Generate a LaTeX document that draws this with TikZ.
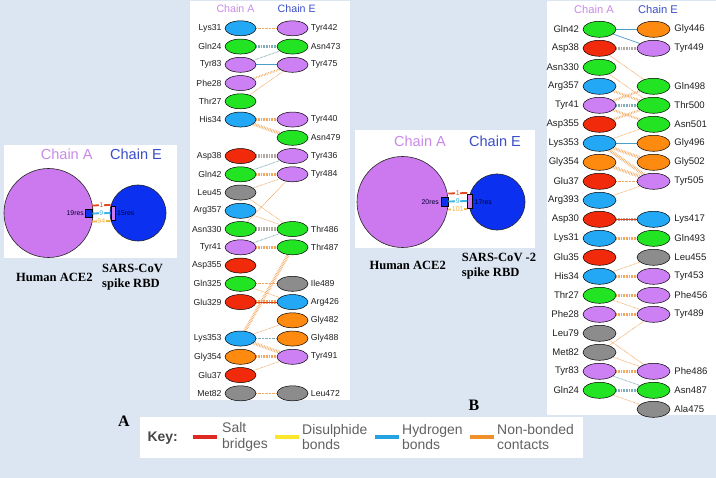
\documentclass[tikz,border=0pt]{standalone}
\usepackage{fontspec}
\setmainfont{Liberation Sans}
\newfontfamily\serifbf{Liberation Serif}
\usetikzlibrary{shapes.geometric}
\definecolor{bgblue}{HTML}{DCE6F2}
\definecolor{cP}{HTML}{CC80F4}
\definecolor{cG}{HTML}{22E422}
\definecolor{cB}{HTML}{22A8F4}
\definecolor{cR}{HTML}{F22A0C}
\definecolor{cO}{HTML}{FF8A10}
\definecolor{cK}{HTML}{8C8C8C}
\definecolor{chA}{HTML}{C98AE8}
\definecolor{chE}{HTML}{3A4EC8}
\definecolor{lnO}{HTML}{F2A860}
\definecolor{lnB}{HTML}{4A9EC8}
\definecolor{lnT}{HTML}{7FAEB8}
\definecolor{lnR}{HTML}{E0401E}
\definecolor{lnM}{HTML}{B0AAA2}
\definecolor{keyR}{HTML}{DE2A24}
\definecolor{keyY}{HTML}{FCE62C}
\definecolor{keyB}{HTML}{24A2E2}
\definecolor{keyO}{HTML}{F0902A}
\definecolor{bigP}{HTML}{CC78EE}
\definecolor{bigB}{HTML}{0C30F0}
\definecolor{sqR}{HTML}{E04A22}
\definecolor{sqC}{HTML}{3CB4E4}
\definecolor{sqO}{HTML}{F2B440}
\pgfdeclarelayer{bg}\pgfdeclarelayer{lines}\pgfsetlayers{bg,lines,main}
\tikzset{
  resA/.style={ellipse, draw=black, line width=0.5bp, minimum width=31bp, minimum height=15bp, inner sep=0pt},
  resB/.style={ellipse, draw=black, line width=0.5bp, minimum width=33bp, minimum height=16bp, inner sep=0pt},
  lablA/.style={font=\fontsize{8.7}{10}\selectfont, text=black!88, inner sep=0pt},
  lablB/.style={font=\fontsize{9.6}{11}\selectfont, text=black!88, inner sep=0pt},
  nb/.style={draw=lnO, line width=0.7bp, dash pattern=on 0.7bp off 0.7bp},
  nbm/.style={draw=lnO, line width=3.2bp, dash pattern=on 0.6bp off 1bp},
  hb/.style={draw=lnB, line width=0.7bp},
  hbd/.style={draw=lnT, line width=0.8bp, dash pattern=on 0.7bp off 0.7bp},
  hbm/.style={draw=lnT, line width=2.8bp, dash pattern=on 0.6bp off 1bp},
  mixm/.style={draw=lnM, line width=3.2bp, dash pattern=on 0.6bp off 1bp},
  sb/.style={draw=lnR, line width=1bp},
  chhead/.style={inner sep=0pt},
  bigc/.style={circle, draw=black!85, line width=0.6bp, inner sep=0pt},
  sq/.style={rectangle, draw=black, line width=0.5bp, inner sep=0pt},
  resn/.style={font=\fontsize{6.9}{7}\selectfont, text=black!80!blue, inner sep=0pt},
  cnum/.style={font=\fontsize{7}{7}\selectfont, fill=white, inner sep=0.6bp},
  clink/.style={line width=1.8bp},
  captxt/.style={font=\serifbf\bfseries\fontsize{12.6}{15.5}\selectfont, inner sep=0pt, align=left},
  panlab/.style={font=\serifbf\bfseries\fontsize{16}{18}\selectfont, inner sep=0pt},
  keytxt/.style={font=\fontsize{14}{15.5}\selectfont, text=black!62, inner sep=0pt, align=left, anchor=west},
  swatch/.style={rectangle, inner sep=0pt, minimum width=24bp, minimum height=4bp}
}
\begin{document}
\begin{tikzpicture}[x=1bp,y=-1bp]
\useasboundingbox (0,0) rectangle (716,478);
\begin{pgfonlayer}{bg}
\fill[bgblue] (0,0) rectangle (716,478);
\fill[white] (4,145) rectangle (177,258);
\fill[white] (355,130) rectangle (535,248);
\fill[white] (190,1) rectangle (350,400);
\fill[white] (547,1) rectangle (716,415);
\fill[white] (140,417) rectangle (583,458);
\end{pgfonlayer}

% ---------- Panel A overview ----------
\node[chhead, font=\fontsize{14.6}{16}\selectfont, text=chA] (hA1) at (66.7,154) {Chain A};
\node[chhead, font=\fontsize{14.6}{16}\selectfont, text=chE] (hE1) at (136,154) {Chain E};
\node[bigc, fill=bigP, minimum size=89bp] (ace1) at (48.5,213) {};
\node[bigc, fill=bigB, minimum size=56bp] (rbd1) at (138,213) {};
\node[sq, fill=bigB, minimum width=7bp, minimum height=8bp] (sqA1) at (88.5,213.5) {};
\node[sq, fill=bigP, minimum width=4.5bp, minimum height=14bp] (rcE1) at (113,213) {};
\node[resn, anchor=east] (nA1) at (84,213) {19res};
\node[resn, anchor=west] (nE1) at (117,213) {15res};
\draw[clink, draw=sqR] ([yshift=8bp]sqA1.east) -- node[cnum, text=sqR] (k1a) {1} ([yshift=8bp]rcE1.west);
\draw[clink, draw=sqC] (sqA1.east) -- node[cnum, text=sqC] (k2a) {9} (rcE1.west);
\draw[clink, draw=sqO] ([yshift=-8bp]sqA1.east) -- node[cnum, text=sqO] (k3a) {94} ([yshift=-8bp]rcE1.west);
\node[captxt, anchor=west] (hum1) at (16,277.7) {Human ACE2};
\node[captxt, anchor=west] (sars1) at (102,277) {SARS-CoV\\spike RBD};
\node[panlab] (labA) at (124,421) {A};

% ---------- Panel B overview ----------
\node[chhead, font=\fontsize{14.6}{16}\selectfont, text=chA] (hA2) at (420,141) {Chain A};
\node[chhead, font=\fontsize{14.6}{16}\selectfont, text=chE] (hE2) at (495,141) {Chain E};
\node[bigc, fill=bigP, minimum size=91bp] (ace2) at (402.5,202) {};
\node[bigc, fill=bigB, minimum size=56bp] (rbd2) at (497,202) {};
\node[sq, fill=bigB, minimum width=7bp, minimum height=9bp] (sqA2) at (444.5,201.5) {};
\node[sq, fill=bigP, minimum width=5bp, minimum height=14bp] (rcE2) at (470,201) {};
\node[resn, anchor=east] (nA2) at (439,201.7) {20res};
\node[resn, anchor=west] (nE2) at (474.5,201.7) {17res};
\draw[clink, draw=sqR] ([yshift=8bp]sqA2.east) -- node[cnum, text=sqR] (k1b) {1} ([yshift=8bp]rcE2.west);
\draw[clink, draw=sqC] (sqA2.east) -- node[cnum, text=sqC] (k2b) {9} (rcE2.west);
\draw[clink, draw=sqO] ([yshift=-8bp]sqA2.east) -- node[cnum, text=sqO] (k3b) {101} ([yshift=-8bp]rcE2.west);
\node[captxt, anchor=west] (hum2) at (369.3,265.7) {Human ACE2};
\node[captxt, anchor=west] (sars2) at (461.7,266) {SARS-CoV -2\\spike RBD};
\node[panlab] (labB) at (474,405) {B};

% ---------- Left residue panel ----------
\node[chhead, font=\fontsize{10.7}{12}\selectfont, text=chA] (cA3) at (235.5,9) {Chain A};
\node[chhead, font=\fontsize{10.7}{12}\selectfont, text=chE] (cE3) at (296.7,9) {Chain E};
\foreach \r/\n/\c in {0/Lys31/cB,1/Gln24/cG,2/Tyr83/cP,3/Phe28/cP,4/Thr27/cG,5/His34/cB,7/Asp38/cR,8/Gln42/cG,9/Leu45/cK,10/Arg357/cB,11/Asn330/cG,12/Tyr41/cP,13/Asp355/cR,14/Gln325/cG,15/Glu329/cR,17/Lys353/cB,18/Gly354/cO,19/Glu37/cR,20/Met82/cK}{
  \node[resA, fill=\c] (LA\r) at (240.5,{28.3+18.25*\r}) {};
  \node[lablA, anchor=east] (tLA\r) at ([xshift=-3bp]LA\r.west) {\n};
}
\foreach \r/\n/\c in {0/Tyr442/cP,1/Asn473/cG,2/Tyr475/cP,5/Tyr440/cP,6/Asn479/cG,7/Tyr436/cP,8/Tyr484/cP,11/Thr486/cG,12/Thr487/cG,14/Ile489/cK,15/Arg426/cB,16/Gly482/cO,17/Gly488/cO,18/Tyr491/cP,20/Leu472/cK}{
  \node[resA, fill=\c] (LE\r) at (292.5,{28.3+18.25*\r}) {};
  \node[lablA, anchor=west] (tLE\r) at ([xshift=2.5bp]LE\r.east) {\n};
}

% ---------- Right residue panel ----------
\node[chhead, font=\fontsize{11.2}{12}\selectfont, text=chA] (cA4) at (594,9.3) {Chain A};
\node[chhead, font=\fontsize{11.2}{12}\selectfont, text=chE] (cE4) at (658,9.3) {Chain E};
\foreach \r/\n/\c in {0/Gln42/cG,1/Asp38/cR,2/Asn330/cG,3/Arg357/cB,4/Tyr41/cP,5/Asp355/cR,6/Lys353/cB,7/Gly354/cO,8/Glu37/cR,9/Arg393/cB,10/Asp30/cR,11/Lys31/cB,12/Glu35/cR,13/His34/cB,14/Thr27/cG,15/Phe28/cP,16/Leu79/cK,17/Met82/cK,18/Tyr83/cP,19/Gln24/cG}{
  \node[resB, fill=\c] (RA\r) at (599.5,{29.3+19*\r}) {};
  \node[lablB, anchor=east] (tRA\r) at ([xshift=-3.5bp]RA\r.west) {\n};
}
\foreach \r/\n/\c in {0/Gly446/cO,1/Tyr449/cP,3/Gln498/cG,4/Thr500/cG,5/Asn501/cG,6/Gly496/cO,7/Gly502/cO,8/Tyr505/cP,10/Lys417/cB,11/Gln493/cG,12/Leu455/cK,13/Tyr453/cP,14/Phe456/cP,15/Tyr489/cP,18/Phe486/cP,19/Asn487/cG,20/Ala475/cK}{
  \node[resB, fill=\c] (RE\r) at (653.5,{29.3+19*\r}) {};
  \node[lablB, anchor=west] (tRE\r) at ([xshift=4bp]RE\r.east) {\n};
}

% ---------- connectors ----------
\begin{pgfonlayer}{lines}
% left panel
\draw[nb] (LA0) -- (LE0);
\draw[hbm] (LA1) -- (LE1);
\draw[hbd] (LA2) -- (LE1);
\draw[hb] (LA2) -- (LE2);
\draw[nbm, line width=2bp] (LA3) -- (LE2);
\draw[nb] (LA4) -- (LE2);
\draw[nbm] (LA5) -- (LE5);
\draw[nbm] (LA5) -- (LE6);
\draw[mixm] (LA7) -- (LE7);
\draw[hbd] (LA8) -- (LE7);
\draw[nbm] (LA8) -- (LE8);
\draw[nb] (LA9) -- (LE8);
\draw[nb] (LA9) -- (LE11);
\draw[nb] (LA11) -- (LE8);
\draw[nb] (LA10) -- (LE11);
\draw[mixm] (LA11) -- (LE11);
\draw[hbd] (LA12) -- (LE11);
\draw[nbm] (LA12) -- (LE12);
\draw[nbm] (LA17) -- (LE12);
\draw[nb] (LA14) -- (LE14);
\draw[nb] (LA14) -- (LE15);
\draw[nbm] (LA15) -- (LE15);
\draw[sb] (LA15) -- (LE15);
\draw[nb] (LA17) -- (LE16);
\draw[hbd] (LA17) -- (LE17);
\draw[nbm] (LA17) -- (LE18);
\draw[nbm] (LA18) -- (LE18);
\draw[nb] (LA19) -- (LE18);
\draw[nb] (LA20) -- (LE20);
% right panel
\draw[hb] (RA0) -- (RE0);
\draw[hb] (RA0) -- (RE1);
\draw[mixm] (RA1) -- (RE1);
\draw[nb] (RA1) -- (RE3);
\draw[nb] (RA2) -- (RE4);
\draw[nbm, line width=2.4bp] (RA3) -- (RE4);
\draw[nbm, line width=2.4bp] (RA4) -- (RE3);
\draw[hbm] (RA4) -- (RE4);
\draw[nbm, line width=2.4bp] (RA4) -- (RE5);
\draw[nbm, line width=2.4bp] (RA5) -- (RE4);
\draw[nb] (RA6) -- (RE5);
\draw[hb] (RA6) -- (RE6);
\draw[nbm] (RA6) -- (RE7);
\draw[nbm] (RA6) -- (RE8);
\draw[nbm] (RA7) -- (RE8);
\draw[nb] (RA8) -- (RE8);
\draw[nb] (RA9) -- (RE8);
\draw[mixm] (RA10) -- (RE10);
\draw[sb] (RA10) -- (RE10);
\draw[nbm] (RA11) -- (RE11);
\draw[nb] (RA13) -- (RE12);
\draw[nbm] (RA13) -- (RE13);
\draw[nbm] (RA14) -- (RE14);
\draw[nb] (RA14) -- (RE15);
\draw[nbm] (RA15) -- (RE15);
\draw[nb] (RA17) -- (RE15);
\draw[nb] (RA16) -- (RE18);
\draw[nb] (RA17) -- (RE18);
\draw[nbm] (RA18) -- (RE18);
\draw[hbd] (RA18) -- (RE19);
\draw[hbm] (RA19) -- (RE19);
\draw[nb] (RA19) -- (RE20);
\end{pgfonlayer}

% ---------- Key ----------
\node[inner sep=0pt, anchor=east, font=\bfseries\fontsize{14}{15}\selectfont, text=black!72] (keyh) at (178,438) {Key:};
\node[swatch, fill=keyR] (swR) at (205,437) {};
\node[keytxt] (ktR) at (222,437) {Salt\\bridges};
\node[swatch, fill=keyY] (swY) at (286.5,437) {};
\node[keytxt] (ktY) at (302,437) {Disulphide\\bonds};
\node[swatch, fill=keyB] (swB) at (386.5,437) {};
\node[keytxt] (ktB) at (402,437) {Hydrogen\\bonds};
\node[swatch, fill=keyO] (swO) at (481.5,437) {};
\node[keytxt] (ktO) at (497,437) {Non-bonded\\contacts};
\end{tikzpicture}
\end{document}
